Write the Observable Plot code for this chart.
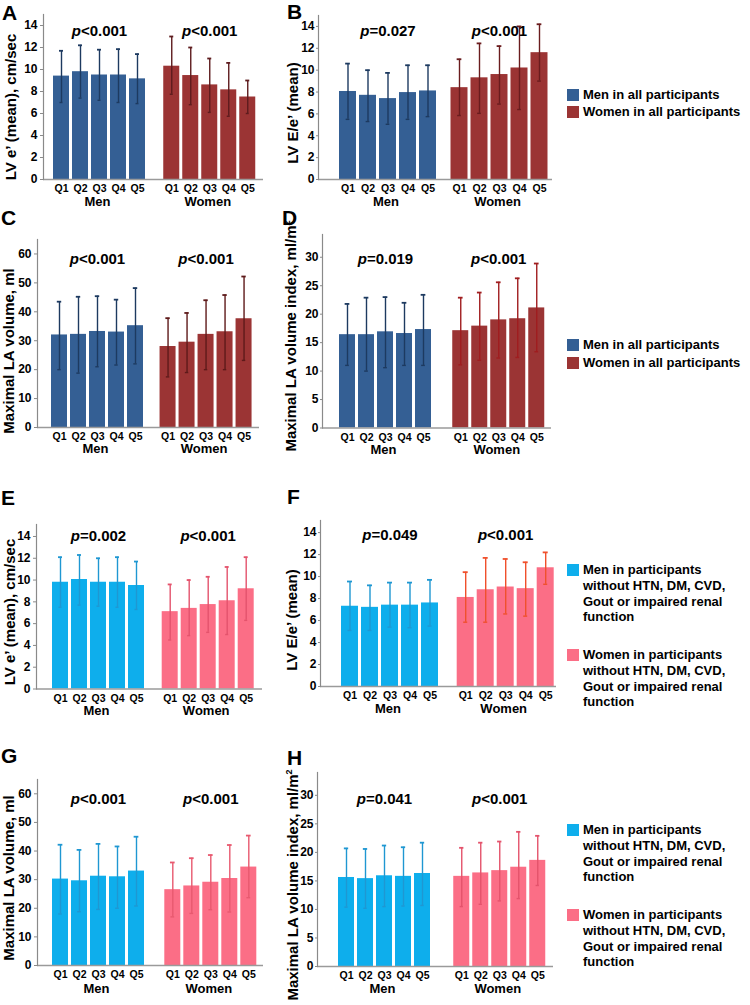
<!DOCTYPE html>
<html>
<head>
<meta charset="utf-8">
<script src="https://cdn.jsdelivr.net/npm/d3@7"></script>
<script src="https://cdn.jsdelivr.net/npm/@observablehq/plot@0.6"></script>
<style>
  html, body { margin: 0; padding: 0; background: #fff; }
  body { font-family: "Liberation Sans", Arial, Helvetica, sans-serif; }
  #root { position: relative; width: 750px; height: 1005px; overflow: hidden; }
  .panel { position: absolute; }
  .letter { position: absolute; font-weight: bold; font-size: 21px; line-height: 1; color: #000; }
  .ylab { position: absolute; font-weight: bold; font-size: 15px; white-space: nowrap; line-height: 1;
          transform: translate(-50%, -50%) rotate(-90deg); color: #000; }
  .ylab sup { font-size: 9px; vertical-align: 6px; line-height: 0; }
  .legend { position: absolute; font-weight: bold; font-size: 13px; line-height: 15.8px; color: #000; }
  .legend .item { position: relative; padding-left: 16px; }
  .legend .sw { position: absolute; left: 0; top: 2px; width: 12px; height: 12px; }
</style>
</head>
<body>
<div id="root"></div>
<script>
// ---------------- data ----------------
const quintiles = ["Q1", "Q2", "Q3", "Q4", "Q5"];
const groups = ["Men", "Women"];

const ticksE = [0, 2, 4, 6, 8, 10, 12, 14];
const ticksVol = [0, 10, 20, 30, 40, 50, 60];
const ticksIdx = [0, 5, 10, 15, 20, 25, 30];

// A: LV e' (mean), all participants
const A_menMean = [9.4, 9.8, 9.5, 9.5, 9.15];
const A_menLow = [7.0, 7.4, 7.2, 7.0, 6.9];
const A_menHigh = [11.7, 12.2, 11.8, 11.85, 11.4];
const A_womenMean = [10.3, 9.45, 8.6, 8.15, 7.5];
const A_womenLow = [7.75, 6.8, 6.1, 5.75, 6.0];
const A_womenHigh = [13.0, 12.0, 11.0, 10.6, 9.0];

// B: LV E/e' (mean), all participants
const B_menMean = [8.05, 7.7, 7.4, 7.95, 8.1];
const B_menLow = [5.5, 5.3, 5.05, 5.5, 5.75];
const B_menHigh = [10.6, 10.0, 9.75, 10.45, 10.45];
const B_womenMean = [8.4, 9.3, 9.6, 10.2, 11.6];
const B_womenLow = [5.85, 6.05, 6.9, 6.4, 9.0];
const B_womenHigh = [11.0, 12.45, 12.2, 14.0, 14.2];

// C: Maximal LA volume, all participants
const C_menMean = [32.0, 32.2, 33.2, 33.0, 35.2];
const C_menLow = [20.0, 18.8, 21.0, 21.6, 22.0];
const C_menHigh = [43.5, 45.2, 45.4, 44.2, 48.2];
const C_womenMean = [28.0, 29.5, 32.2, 33.1, 37.6];
const C_womenLow = [17.5, 19.0, 20.0, 20.0, 23.2];
const C_womenHigh = [37.8, 39.6, 44.0, 45.8, 52.2];

// D: Maximal LA volume index, all participants
const D_menMean = [16.4, 16.4, 16.9, 16.6, 17.3];
const D_menLow = [11.0, 10.0, 10.6, 11.0, 11.0];
const D_menHigh = [21.8, 22.9, 23.0, 22.0, 23.4];
const D_womenMean = [17.1, 17.9, 19.0, 19.2, 21.1];
const D_womenLow = [11.1, 11.9, 12.3, 12.4, 13.4];
const D_womenHigh = [22.9, 23.8, 25.6, 26.3, 28.9];

// E: LV e' (mean), participants without HTN, DM, CVD, gout or impaired renal function
const E_menMean = [9.8, 10.05, 9.8, 9.8, 9.5];
const E_menLow = [7.5, 7.7, 7.6, 7.5, 7.3];
const E_menHigh = [12.1, 12.3, 12.0, 12.1, 11.7];
const E_womenMean = [7.1, 7.4, 7.75, 8.1, 9.2];
const E_womenLow = [4.5, 4.9, 5.2, 5.0, 6.3];
const E_womenHigh = [9.6, 10.0, 10.3, 11.2, 12.1];

// F: LV E/e' (mean), participants without comorbidities
const F_menMean = [7.3, 7.2, 7.4, 7.4, 7.6];
const F_menLow = [5.1, 5.1, 5.4, 5.35, 5.5];
const F_menHigh = [9.55, 9.2, 9.45, 9.45, 9.7];
const F_womenMean = [8.1, 8.8, 9.05, 8.9, 10.8];
const F_womenLow = [5.85, 5.85, 6.6, 6.4, 9.3];
const F_womenHigh = [10.4, 11.7, 11.6, 11.3, 12.2];

// G: Maximal LA volume, participants without comorbidities
const G_menMean = [30.2, 29.6, 31.2, 31.0, 33.0];
const G_menLow = [18.0, 18.8, 19.6, 20.0, 20.8];
const G_menHigh = [42.2, 40.4, 42.5, 41.6, 45.0];
const G_womenMean = [26.5, 27.8, 29.1, 30.4, 34.4];
const G_womenLow = [17.0, 18.2, 19.5, 18.7, 23.7];
const G_womenHigh = [36.0, 37.5, 38.6, 42.1, 45.4];

// H: Maximal LA volume index, participants without comorbidities
const H_menMean = [15.6, 15.4, 15.9, 15.8, 16.3];
const H_menLow = [10.4, 10.2, 10.5, 10.6, 10.7];
const H_menHigh = [20.7, 20.6, 21.2, 20.9, 21.7];
const H_womenMean = [15.8, 16.4, 16.8, 17.4, 18.6];
const H_womenLow = [10.5, 10.9, 11.5, 11.9, 14.2];
const H_womenHigh = [20.8, 21.7, 21.9, 23.6, 22.9];

const panelLetters = ["A", "B", "C", "D", "E", "F", "G", "H"];
const pMen = ["<0.001", "=0.027", "<0.001", "=0.019", "=0.002", "=0.049", "<0.001", "=0.041"];
const pWomen = ["<0.001", "<0.001", "<0.001", "<0.001", "<0.001", "<0.001", "<0.001", "<0.001"];
const yTitles = [
  "LV e’ (mean), cm/sec",
  "LV E/e’ (mean)",
  "Maximal LA volume, ml",
  "Maximal LA volume index, ml/m<sup>2</sup>",
  "LV e’ (mean), cm/sec",
  "LV E/e’ (mean)",
  "Maximal LA volume, ml",
  "Maximal LA volume index, ml/m<sup>2</sup>"
];
const legendAll = ["Men in all participants", "Women in all participants"];
const legendSub = [
  ["Men in participants", "without HTN, DM, CVD,", "Gout or impaired renal", "function"],
  ["Women in participants", "without HTN, DM, CVD,", "Gout or impaired renal", "function"]
];

// ---------------- styles ----------------
const colAll = {men: "#345f94", women: "#9b3434"};
const colSub = {men: "#0eaeec", women: "#fb6e86"};

const root = document.getElementById("root");
const FONT = '"Liberation Sans", Arial, Helvetica, sans-serif';

function makePanel(c) {
  const rows = [];
  groups.forEach((g, gi) => quintiles.forEach((q, qi) => {
    rows.push({
      g, q, key: g + " " + q,
      mean: gi ? c.wMean[qi] : c.mMean[qi],
      lo: gi ? c.wLow[qi] : c.mLow[qi],
      hi: gi ? c.wHigh[qi] : c.mHigh[qi]
    });
  }));
  const keys = rows.map(d => d.key);
  const pi = 1 - c.barW / c.step;
  const r0 = c.barStart - c.left;
  const r1 = r0 + c.step * (keys.length - pi);
  const shift = c.womenStart - (c.barStart + 5 * c.step);
  const capInset = (c.barW - 5) / 2;
  const W = c.width, H = c.height;
  const men = rows.filter(d => d.g === "Men");
  const women = rows.filter(d => d.g === "Women");

  const marks = [];
  const sets = [
    [men, 0, c.menFill, c.menErr, c.pMen],
    [women, shift, c.womenFill, c.womenErr, c.pWomen]
  ];
  for (const [data, dx, fill] of sets) {
    marks.push(Plot.barY(data, {x: "key", y: "mean", fill, dx}));
  }
  marks.push(Plot.ruleY([0], {stroke: "#9a9a9a", strokeWidth: 1.6}));
  marks.push(Plot.frame({anchor: "left", stroke: "#8a8a8a", strokeWidth: 1.2}));
  for (const [data, dx, fill, err, p] of sets) {
    marks.push(Plot.ruleX(data, {x: "key", y1: "lo", y2: "hi", stroke: err, strokeWidth: 1.4, dx}));
    marks.push(Plot.tickY(data, {x: "key", y: "hi", stroke: err, strokeWidth: 1.8, insetLeft: capInset, insetRight: capInset, dx}));
    marks.push(Plot.tickY(data, {x: "key", y: "lo", stroke: err, strokeWidth: 1.4, insetLeft: capInset + 0.5, insetRight: capInset + 0.5, dx}));
    marks.push(Plot.axisX(data.map(d => d.key), {
      tickSize: 0, tickPadding: 5.5, tickFormat: k => k.split(" ")[1],
      fontWeight: "bold", fontSize: 10.5, dx, label: null
    }));
    const mid = [data[2]];
    marks.push(Plot.text(mid, {x: "key", text: "g", frameAnchor: "bottom", dy: c.groupDy, dx: dx - 2,
      fontWeight: "bold", fontSize: 13}));
    marks.push(Plot.text(mid, {x: "key", text: () => "p", frameAnchor: "top", dy: c.pDy, dx: dx - 18.6,
      textAnchor: "end", fontWeight: "bold", fontStyle: "italic", fontSize: 15}));
    marks.push(Plot.text(mid, {x: "key", text: () => p, frameAnchor: "top", dy: c.pDy, dx: dx - 18.6,
      textAnchor: "start", fontWeight: "bold", fontSize: 15}));
  }
  marks.push(Plot.axisY(c.ticks, {tickSize: c.tickSize, tickPadding: c.tickPad, stroke: "#8a8a8a", fontWeight: "bold",
    fontSize: 12, label: null}));

  const svg = Plot.plot({
    width: W, height: H,
    marginLeft: c.axisX - c.left,
    marginRight: c.left + W - c.baseEnd,
    marginTop: c.plotTop - c.top,
    marginBottom: c.top + H - c.baseline,
    style: {fontFamily: FONT, color: "#000", background: "transparent", overflow: "visible"},
    x: {type: "band", domain: keys, range: [r0, r1], paddingInner: pi, paddingOuter: 0},
    y: {domain: [0, c.yMax]},
    marks
  });
  const wrap = document.createElement("div");
  wrap.className = "panel";
  wrap.style.left = c.left + "px";
  wrap.style.top = c.top + "px";
  wrap.appendChild(svg);
  root.appendChild(wrap);

  const L = document.createElement("div");
  L.className = "letter";
  L.textContent = c.letter;
  L.style.left = c.letterX + "px";
  L.style.top = (c.letterBase - 17.8) + "px";
  root.appendChild(L);

  const Y = document.createElement("div");
  Y.className = "ylab";
  Y.innerHTML = c.ytitle;
  Y.style.left = c.ylabX + "px";
  Y.style.top = c.ylabY + "px";
  root.appendChild(Y);
}

function legend(x, y, lines, color) {
  const d = document.createElement("div");
  d.className = "legend";
  d.style.left = x + "px";
  d.style.top = y + "px";
  const it = document.createElement("div");
  it.className = "item";
  const sw = document.createElement("div");
  sw.className = "sw";
  sw.style.background = color;
  it.appendChild(sw);
  it.insertAdjacentHTML("beforeend", lines.join("<br>"));
  d.appendChild(it);
  root.appendChild(d);
}

const errAll = {
  A: ["#1d3a60", "#5e1c1e"], B: ["#1d3a60", "#6a1c1e"], C: ["#1d3a60", "#5e1a1a"], D: ["#1d3a60", "#a01d1f"]
};
const errSub = {
  E: ["#1f97d2", "#e4536c"], F: ["#1f97d2", "#f0502c"], G: ["#1f97d2", "#e8596f"], H: ["#1f97d2", "#e4536c"]
};

const layouts = [
  {left: 0, top: 0, width: 266, height: 215, axisX: 43, plotTop: 14, baseline: 179, baseEnd: 263,
   barStart: 49, step: 19.75, barW: 17, womenStart: 163, yMax: 15, ticks: ticksE, tickSize: 3, tickPad: 3,
   pDy: 11, groupDy: 26, letterX: 2, letterBase: 20, ylabX: 10, ylabY: 107},
  {left: 280, top: 0, width: 275, height: 215, axisX: 318, plotTop: 15, baseline: 179, baseEnd: 552,
   barStart: 337.7, step: 20.3, barW: 17.3, womenStart: 450.7, yMax: 15, ticks: ticksE, tickSize: 2, tickPad: 2,
   pDy: 10, groupDy: 26, letterX: 287, letterBase: 18.5, ylabX: 292, ylabY: 113},
  {left: 0, top: 230, width: 262, height: 235, axisX: 37, plotTop: 239, baseline: 427, baseEnd: 259,
   barStart: 47.7, step: 19.75, barW: 16.6, womenStart: 160, yMax: 65, ticks: ticksVol, tickSize: 3, tickPad: 3,
   pDy: 14, groupDy: 25.5, letterX: 1, letterBase: 225, ylabX: 8, ylabY: 351},
  {left: 280, top: 225, width: 274, height: 240, axisX: 322, plotTop: 234, baseline: 427.5, baseEnd: 551,
   barStart: 335, step: 19.75, barW: 16.3, womenStart: 452, yMax: 34, ticks: ticksIdx, tickSize: 2, tickPad: 2,
   pDy: 19, groupDy: 25.5, letterX: 282, letterBase: 225, ylabX: 290, ylabY: 336},
  {left: 0, top: 515, width: 265, height: 210, axisX: 36, plotTop: 524, baseline: 688.5, baseEnd: 262,
   barStart: 48, step: 19.8, barW: 17, womenStart: 161.7, yMax: 15.1, ticks: ticksE, tickSize: 3, tickPad: 3,
   pDy: 6, groupDy: 25.5, letterX: 1, letterBase: 505, ylabX: 9, ylabY: 612},
  {left: 280, top: 510, width: 279, height: 215, axisX: 320, plotTop: 520, baseline: 686, baseEnd: 556,
   barStart: 341, step: 20, barW: 17, womenStart: 456.7, yMax: 15.1, ticks: ticksE, tickSize: 2, tickPad: 2,
   pDy: 9, groupDy: 26.5, letterX: 287, letterBase: 504, ylabX: 291, ylabY: 620},
  {left: 0, top: 770, width: 266, height: 235, axisX: 37, plotTop: 779, baseline: 965, baseEnd: 263,
   barStart: 49, step: 19.6, barW: 16.3, womenStart: 164.3, yMax: 65, ticks: ticksVol, tickSize: 3, tickPad: 3,
   pDy: 14, groupDy: 27.5, letterX: 1, letterBase: 763, ylabX: 8, ylabY: 878},
  {left: 280, top: 765, width: 276, height: 240, axisX: 317, plotTop: 772, baseline: 966, baseEnd: 553,
   barStart: 334, step: 19.75, barW: 16.7, womenStart: 453, yMax: 34, ticks: ticksIdx, tickSize: 2, tickPad: 2,
   pDy: 21, groupDy: 26.5, letterX: 287, letterBase: 765, ylabX: 292, ylabY: 885}
];

const seriesByPanel = [
  [A_menMean, A_menLow, A_menHigh, A_womenMean, A_womenLow, A_womenHigh],
  [B_menMean, B_menLow, B_menHigh, B_womenMean, B_womenLow, B_womenHigh],
  [C_menMean, C_menLow, C_menHigh, C_womenMean, C_womenLow, C_womenHigh],
  [D_menMean, D_menLow, D_menHigh, D_womenMean, D_womenLow, D_womenHigh],
  [E_menMean, E_menLow, E_menHigh, E_womenMean, E_womenLow, E_womenHigh],
  [F_menMean, F_menLow, F_menHigh, F_womenMean, F_womenLow, F_womenHigh],
  [G_menMean, G_menLow, G_menHigh, G_womenMean, G_womenLow, G_womenHigh],
  [H_menMean, H_menLow, H_menHigh, H_womenMean, H_womenLow, H_womenHigh]
];

layouts.forEach((lay, i) => {
  const letter = panelLetters[i];
  const s = seriesByPanel[i];
  const all = i < 4;
  const pal = all ? colAll : colSub;
  const err = all ? errAll[letter] : errSub[letter];
  makePanel(Object.assign({}, lay, {
    letter, ytitle: yTitles[i], pMen: pMen[i], pWomen: pWomen[i],
    mMean: s[0], mLow: s[1], mHigh: s[2], wMean: s[3], wLow: s[4], wHigh: s[5],
    menFill: pal.men, womenFill: pal.women, menErr: err[0], womenErr: err[1]
  }));
});

// legends
legend(567, 87, [legendAll[0]], colAll.men);
legend(567, 104, [legendAll[1]], colAll.women);
legend(567, 337, [legendAll[0]], colAll.men);
legend(567, 355, [legendAll[1]], colAll.women);
legend(567, 562, legendSub[0], colSub.men);
legend(567, 647, legendSub[1], colSub.women);
legend(567, 822, legendSub[0], colSub.men);
legend(567, 907, legendSub[1], colSub.women);
</script>
</body>
</html>
